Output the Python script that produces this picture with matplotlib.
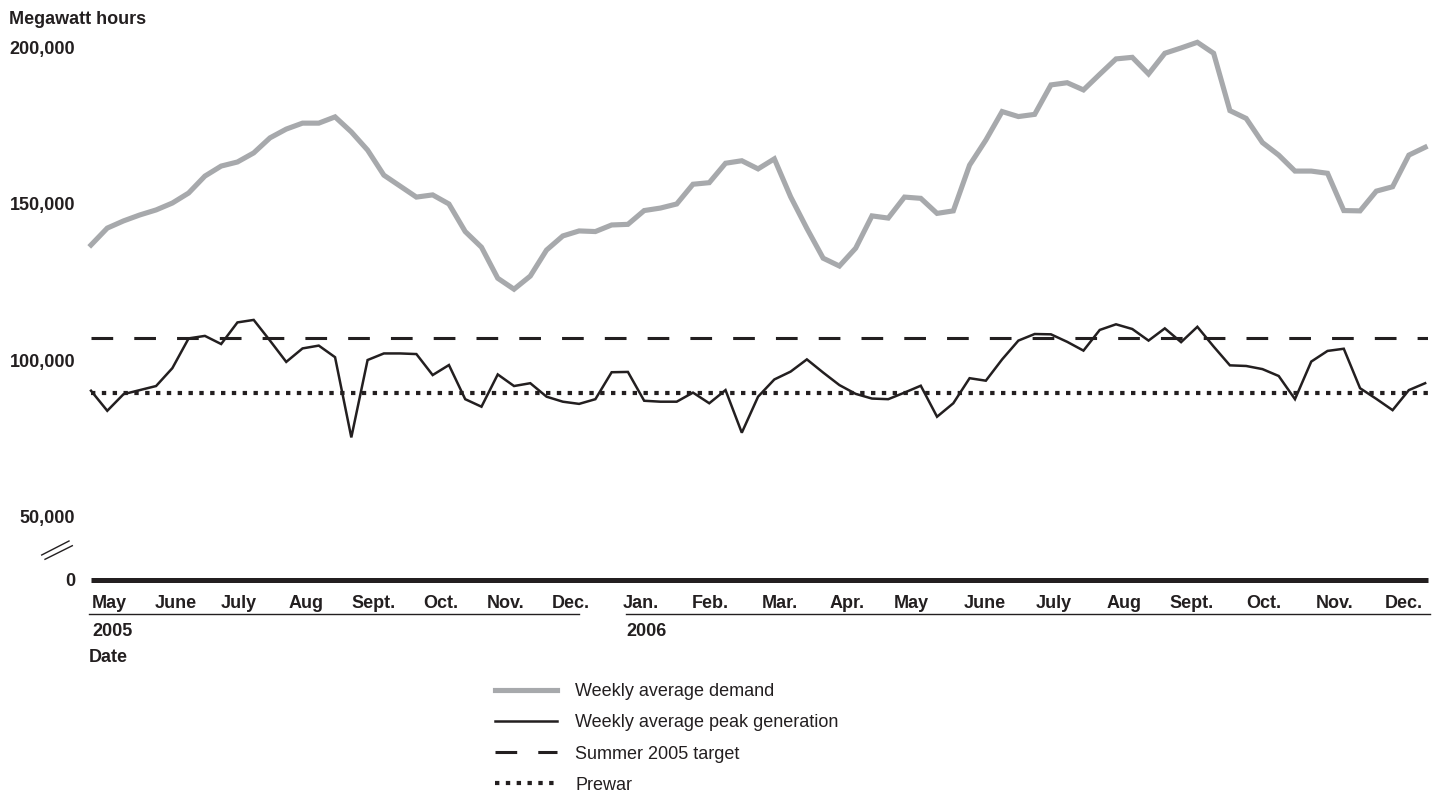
import matplotlib
matplotlib.use("Agg")
import matplotlib.pyplot as plt
from matplotlib.lines import Line2D
import numpy as np

plt.rcParams['font.family'] = ['Liberation Sans', 'DejaVu Sans']

# ---------------- data (megawatt hours, weekly) ----------------
demand = [136800, 142200, 144500, 146400, 148000, 150200, 153400, 158800, 162000, 163300,
          166200, 171000, 173800, 175700, 175700, 177700, 172900, 167100, 159100, 155600,
          152100, 152800, 149900, 141100, 136100, 126200, 122700, 126900, 135200, 139700,
          141300, 141100, 143200, 143400, 147800, 148600, 149900, 156200, 156700, 162900,
          163700, 161100, 164300, 152200, 142100, 132600, 130100, 135800, 146100, 145400,
          152100, 151700, 146900, 147700, 162300, 170300, 179400, 177800, 178500, 187900,
          188600, 186300, 191300, 196200, 196700, 191400, 198000, 199700, 201500, 198000,
          179700, 177200, 169500, 165500, 160400, 160400, 159700, 147800, 147700, 154000,
          155400, 165500, 168000]
generation = [90300, 83900, 89200, 90500, 91800, 97500, 107000, 107800, 105200, 112100,
              112900, 106300, 99500, 103800, 104700, 101000, 75400, 100100, 102200, 102200,
              102000, 95300, 98500, 87600, 85200, 95500, 91800, 92700, 88400, 86800,
              86100, 87600, 96200, 96300, 87100, 86800, 86800, 89700, 86300, 90500,
              76900, 88400, 93900, 96400, 100300, 96100, 92100, 89300, 87800, 87600,
              89700, 91900, 82000, 86300, 94300, 93500, 100300, 106300, 108400, 108300,
              105900, 103100, 109700, 111500, 110000, 106300, 110200, 105800, 110700, 104400,
              98400, 98200, 97200, 95000, 87600, 99600, 103000, 103700, 91100, 87700,
              84100, 90500, 92700]
summer_2005_target = 107100
prewar = 89600

months = ["May", "June", "July", "Aug", "Sept.", "Oct.", "Nov.", "Dec.",
          "Jan.", "Feb.", "Mar.", "Apr.", "May", "June", "July", "Aug",
          "Sept.", "Oct.", "Nov.", "Dec."]
years = ["2005", "2006"]
ytick_values = [0, 50000, 100000, 150000, 200000]
ytick_labels = ["0", "50,000", "100,000", "150,000", "200,000"]
legend_labels = ["Weekly average demand", "Weekly average peak generation",
                 "Summer 2005 target", "Prewar"]

# ---------------- layout helpers ----------------
W, H = 1439, 793
DPI = 100
def fx(x):
    return x / W
def fy(y):
    return 1 - y / H

INK = "#231f20"
GREY = "#a7a9ac"
FS = 13

fig = plt.figure(figsize=(W / DPI, H / DPI), dpi=DPI)
ax_l, ax_r, ax_t, ax_b = 91, 1428, 30, 580
ax = fig.add_axes([fx(ax_l), fy(ax_b), (ax_r - ax_l) / W, (ax_b - ax_t) / H])

# broken y-axis: 0 .. 50,000 compressed
Y0 = 29893.0
def fwd(v):
    v = np.asarray(v, dtype=float)
    return np.where(v >= 50000, v, Y0 + v * (50000 - Y0) / 50000)
def inv(u):
    u = np.asarray(u, dtype=float)
    return np.where(u >= 50000, u, (u - Y0) * 50000 / (50000 - Y0))
ax.set_yscale('function', functions=(fwd, inv))

x = np.arange(len(demand))
l_dem, = ax.plot(x, demand, color=GREY, lw=3.7, solid_joinstyle='miter', clip_on=False)
l_gen, = ax.plot(x, generation, color=INK, lw=1.8, solid_joinstyle='miter', clip_on=False)
l_tgt = ax.axhline(summer_2005_target, color=INK, lw=2.2, dashes=(7.1, 6.9),
                   dash_capstyle='butt')
l_pre = ax.axhline(prewar, color=INK, lw=3.0, dashes=(1.05, 1.55),
                   dash_capstyle='butt')

ax.set_xlim(0, (ax_r - ax_l) / 16.27)
ax.set_ylim(0, 205426)

for s in ['top', 'right', 'left']:
    ax.spines[s].set_visible(False)
ax.spines['bottom'].set_linewidth(3.6)
ax.spines['bottom'].set_color(INK)
ax.spines['bottom'].set_capstyle('butt')

ax.set_yticks(ytick_values)
ax.set_yticklabels(ytick_labels, fontsize=FS, fontweight='bold', color=INK)
ax.tick_params(axis='y', length=0, pad=11.5)

# month labels (left aligned at month positions, in week units)
month_px = [92, 155, 221, 289, 351, 423, 487, 552, 623, 692, 762, 830,
            894, 964, 1036, 1107, 1169, 1246, 1316, 1385]
ax.set_xticks([(p - ax_l) / 16.27 for p in month_px])
ax.set_xticklabels(months, fontsize=FS, fontweight='bold', color=INK, ha='left')
ax.tick_params(axis='x', length=0, pad=10.8)

# year underlines and labels
fig.add_artist(Line2D([fx(89), fx(579)], [fy(614), fy(614)], color=INK, lw=1.0))
fig.add_artist(Line2D([fx(626), fx(1430)], [fy(614), fy(614)], color=INK, lw=1.0))
fig.text(fx(92), fy(629), years[0], fontsize=FS, fontweight='bold', color=INK,
         ha='left', va='center_baseline')
fig.text(fx(626), fy(629), years[1], fontsize=FS, fontweight='bold', color=INK,
         ha='left', va='center_baseline')
fig.text(fx(89), fy(655), "Date", fontsize=FS, fontweight='bold', color=INK,
         ha='left', va='center_baseline')

# axis title
fig.text(fx(9), fy(17), "Megawatt hours", fontsize=FS, fontweight='bold', color=INK,
         ha='left', va='center_baseline')

# axis break marks
fig.add_artist(Line2D([fx(41.7), fx(69)], [fy(555), fy(541)], color=INK, lw=1.0))
fig.add_artist(Line2D([fx(45), fx(72.3)], [fy(559.3), fy(545.7)], color=INK, lw=1.0))

# legend
leg = ax.legend([l_dem, l_gen, l_tgt, l_pre], legend_labels,
                loc='upper left', bbox_to_anchor=(fx(495), fy(683)),
                bbox_transform=fig.transFigure, frameon=False,
                borderpad=0, borderaxespad=0, fontsize=FS,
                handlelength=3.45, handletextpad=1.0, labelspacing=0.79)
for t in leg.get_texts():
    t.set_color(INK)

fig.savefig("out.png", dpi=DPI)
